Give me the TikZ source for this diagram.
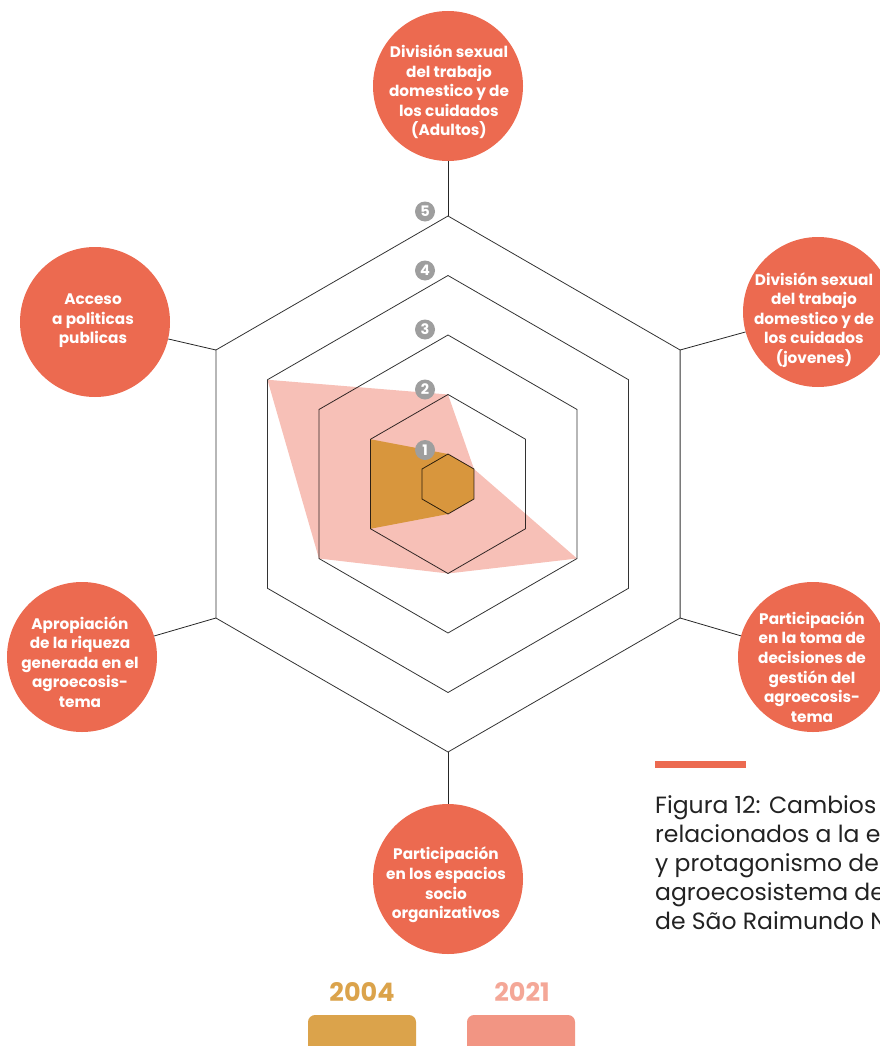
\documentclass[tikz,border=0pt]{standalone}
\usepackage{fontspec}
\setmainfont{Poppins}
\definecolor{coral}{HTML}{EC6A50}
\definecolor{pinkfill}{HTML}{F7C0B7}
\definecolor{orangefill}{HTML}{D8963D}
\definecolor{legorange}{HTML}{DBA34B}
\definecolor{legpink}{HTML}{F29583}
\definecolor{legpinktext}{HTML}{F4A797}
\definecolor{lvlgray}{HTML}{9E9E9E}
\definecolor{captext}{HTML}{222222}
\begin{document}
\begin{tikzpicture}[x=1pt,y=-1pt,
  gridline/.style={draw=black,opacity=0.8,line width=0.8pt,line join=miter},
  spoke/.style={draw=black!85,line width=0.8pt},
  bigcirc/.style={circle,fill=coral,minimum size=150pt,inner sep=0pt},
  ctext/.style={text=white,align=center,inner sep=0pt,font=\fontsize{15.3}{19.6}\selectfont\bfseries},
  lvl/.style={circle,fill=lvlgray,minimum size=20pt,inner sep=0pt,text=white,font=\fontsize{14.5}{14.5}\selectfont\bfseries},
  captline/.style={anchor=base west,inner sep=0pt,text=captext,font=\fontsize{23.5}{29}\selectfont},
  legtext/.style={inner sep=0pt,font=\fontsize{25.5}{25.5}\selectfont\bfseries},
  legbar/.style={rounded corners=7pt}]
\useasboundingbox (0,0) rectangle (880,1046);
\clip (0,0) rectangle (880,1046);
% fills
\begin{scope}[shift={(448,484)}]
  \fill[pinkfill] (270:89.5) -- (330:30) -- (30:149) -- (90:89.5) -- (150:149) -- (210:208.5) -- cycle;
  \fill[orangefill] (270:30) -- (330:30) -- (30:30) -- (90:30) -- (150:89.5) -- (210:89.5) -- cycle;
  \foreach \r in {30,89.5,149,208.5,268}{
    \draw[gridline] (270:\r) -- (330:\r) -- (30:\r) -- (90:\r) -- (150:\r) -- (210:\r) -- cycle;
  }
  \coordinate (vt) at (270:268);
  \coordinate (vur) at (330:268);
  \coordinate (vlr) at (30:268);
  \coordinate (vb) at (90:268);
  \coordinate (vll) at (150:268);
  \coordinate (vul) at (210:268);
\end{scope}
% level labels
\node[lvl] (l5) at (425,211.5) {5};
\node[lvl] (l4) at (425,270.5) {4};
\node[lvl] (l3) at (425,329.5) {3};
\node[lvl] (l2) at (425,389.5) {2};
\node[lvl] (l1) at (425,450) {1};
% circles
\node[bigcirc] (ctop) at (448,86) {};
\node[bigcirc] (cur) at (818,312) {};
\node[bigcirc] (clr) at (813,657) {};
\node[bigcirc] (cb) at (448,879) {};
\node[bigcirc] (cll) at (82,657) {};
\node[bigcirc] (cul) at (95,322) {};
% spokes
\draw[spoke] (vt) -- (ctop);
\draw[spoke] (vur) -- (cur);
\draw[spoke] (vlr) -- (clr);
\draw[spoke] (vb) -- (cb);
\draw[spoke] (vll) -- (cll);
\draw[spoke] (vul) -- (cul);
% circle texts
\node[ctext] (ttop) at (449,92) {División sexual\\del trabajo\\domestico y de\\los cuidados\\(Adultos)};
\node[ctext] (tur) at (814,320) {División sexual\\del trabajo\\domestico y de\\los cuidados\\(jovenes)};
\node[ctext] (tul) at (93,321) {Acceso\\a politicas\\publicas};
\node[ctext] (tll) at (80,662) {Apropiación\\de la riqueza\\generada en el\\agroecosis-\\tema};
\node[ctext] (tlr) at (812,667) {Participación\\en la toma de\\decisiones de\\gestión del\\agroecosis-\\tema};
\node[ctext] (tb) at (446,885) {Participación\\en los espacios\\socio\\organizativos};
% caption
\fill[coral] (655,761) rectangle (746,768);
\node[captline] (cap1) at (655,813) {Figura 12: Cambios e};
\node[captline] (cap2) at (655,842) {relacionados a la ec};
\node[captline] (cap3) at (655,871) {y protagonismo de};
\node[captline] (cap4) at (655,900) {agroecosistema de};
\node[captline] (cap5) at (655,929) {de São Raimundo N};
% legend
\node[legtext,text=legorange] (y04) at (362,992) {2004};
\node[legtext,text=legpinktext] (y21) at (522,992) {2021};
\fill[legorange,legbar] (308,1015) rectangle (416,1065);
\fill[legpink,legbar] (467,1015) rectangle (575,1065);
\end{tikzpicture}
\end{document}
